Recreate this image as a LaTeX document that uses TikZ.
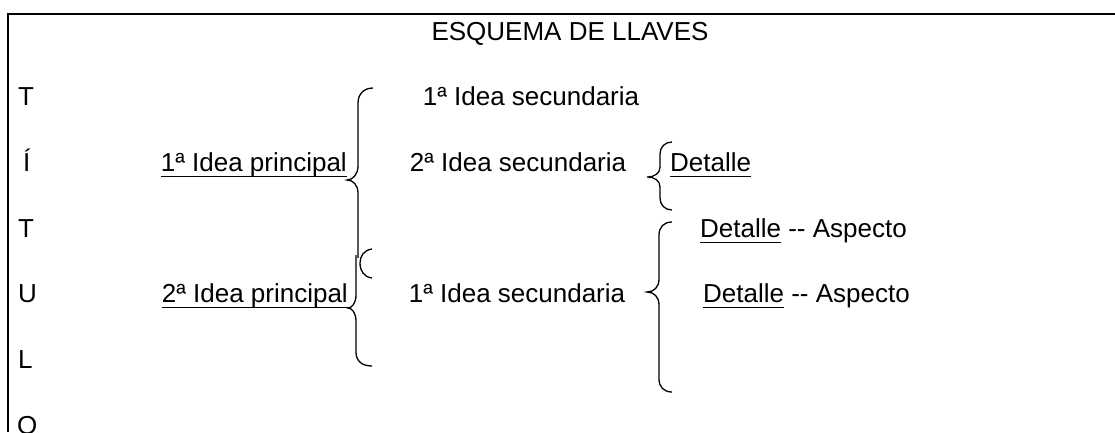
\documentclass[tikz,border=0pt]{standalone}
\usepackage{fontspec}
\setmainfont{Liberation Sans}
\newcommand{\subr}[1]{\setbox0\hbox{#1}\rlap{\vrule width\wd0 height-4.6pt depth6.4pt}\box0\relax}

\begin{document}
\begin{tikzpicture}[x=1pt,y=-1pt,inner sep=0pt,
	txt/.style={anchor=base,font=\fontsize{26}{31}\selectfont},
	llave/.style={line width=1.3pt}]
	\useasboundingbox (0,0) rectangle (1115,432);
	\draw[line width=2pt] (1115,14) -- (8,14) -- (8,432);
	\node[txt] (titulo) at (570,40) {ESQUEMA DE LLAVES};
	% columna del titulo
	\node[txt,anchor=base west] (l_1) at (18,105) {T};
	\node[txt,anchor=base west] (l_2) at (23,171) {Í};
	\node[txt,anchor=base west] (l_3) at (18,237) {T};
	\node[txt,anchor=base west] (l_4) at (18,302) {U};
	\node[txt,anchor=base west] (l_5) at (18,368) {L};
	\node[txt,anchor=base west] (l_6) at (17,434) {O};
	% ideas
	\node[txt,anchor=base east] (p_1) at (347,171) {\subr{1ª Idea principal}};
	\node[txt,anchor=base east] (p_2) at (348,302) {\subr{2ª Idea principal}};
	\node[txt] (s_1) at (531,105) {1ª Idea secundaria};
	\node[txt] (s_2) at (518,171) {2ª Idea secundaria};
	\node[txt] (s_3) at (517,302) {1ª Idea secundaria};
	\node[txt,anchor=base west] (d_1) at (670,171) {\subr{Detalle}};
	\node[txt,anchor=base west] (d_2) at (700,237) {\subr{Detalle} -{}- Aspecto};
	\node[txt,anchor=base west] (d_3) at (703,302) {\subr{Detalle} -{}- Aspecto};
	% llaves
	\draw[llave] (373,88) .. controls (364,88) and (358,94) .. (358,103)
		-- (358,166) .. controls (358,174) and (353,180) .. (p_1.base east |- 0,180)
		.. controls (353,180) and (358,185) .. (358,193) -- (358,258);
	\draw[llave] (372,249) .. controls (364,250) and (360,256) .. (360,263)
		.. controls (360,271) and (364,277) .. (372,278);
	\draw[llave] (356,255) -- (356,295) .. controls (356,303) and (352,308) .. (p_2.base east |- 0,308)
		.. controls (352,308) and (356,313) .. (356,321) -- (356,352)
		.. controls (356,361) and (362,366) .. (372,366);
	\draw[llave] (672,142) .. controls (665,142) and (660,147) .. (660,154)
		-- (660,167) .. controls (660,173) and (655,177) .. (647,177)
		.. controls (655,177) and (660,181) .. (660,187) -- (660,198)
		.. controls (660,205) and (665,210) .. (672,210);
	\draw[llave] (672,222) .. controls (664,222) and (659,227) .. (659,235)
		-- (659,279) .. controls (659,287) and (654,292) .. (647,292)
		.. controls (654,292) and (659,297) .. (659,305) -- (659,379)
		.. controls (659,387) and (664,392) .. (672,392);
\end{tikzpicture}
\end{document}
